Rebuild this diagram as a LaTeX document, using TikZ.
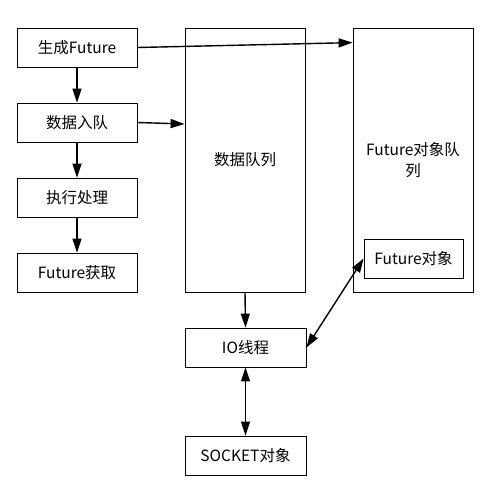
\documentclass[tikz,border=0pt]{standalone}
\usepackage{fontspec}
\setmainfont{Noto Sans CJK SC}
\usetikzlibrary{arrows.meta, positioning}

\begin{document}
\begin{tikzpicture}[
  x=1pt, y=-1pt,
  box/.style={draw=black, line width=0.8pt, fill=white, minimum width=120pt, minimum height=39pt,
              inner sep=0pt, font=\fontsize{15.5}{21}\selectfont, align=center},
  tall/.style={box, minimum height=264pt},
  link/.style={draw=black, line width=1.4pt, -{Triangle[length=14pt, width=9pt]}},
  both/.style={link, {Triangle[length=14pt, width=9pt]}-{Triangle[length=14pt, width=9pt]}}
]
  \useasboundingbox (0,0) rectangle (496,500);

  % left column
  \node[box] (gen)  at (77,47.5)  {生成Future};
  \node[box] (enq)  at (77,122.5) {数据入队};
  \node[box] (exec) at (77,197.5) {执行处理};
  \node[box] (get)  at (77,272.5) {Future获取};

  % queues
  \node[tall] (dq) at (245,160) {数据队列};
  \node[tall, text width=112pt] (fq) at (413,160) {Future对象队\\列};
  \node[box, minimum width=99pt] (fo) at (413.5,258.5) {Future对象};

  % io
  \node[box, minimum width=121pt] (io)   at (245.5,347.5) {IO线程};
  \node[box, minimum width=121pt] (sock) at (245.5,455.5) {SOCKET对象};

  \draw[link] (gen) -- (enq);
  \draw[link] (enq) -- (exec);
  \draw[link] (exec) -- (get);
  \draw[link] (enq.east) -- ([yshift=-1.5pt]enq.east -| dq.west);
  \draw[link] (gen.east) -- ([yshift=-15pt]fq.north west);
  \draw[link] (dq.south) -- (io.north);
  \draw[both] (io.east) -- (fo.west);
  \draw[both] (io) -- (sock);
\end{tikzpicture}
\end{document}
